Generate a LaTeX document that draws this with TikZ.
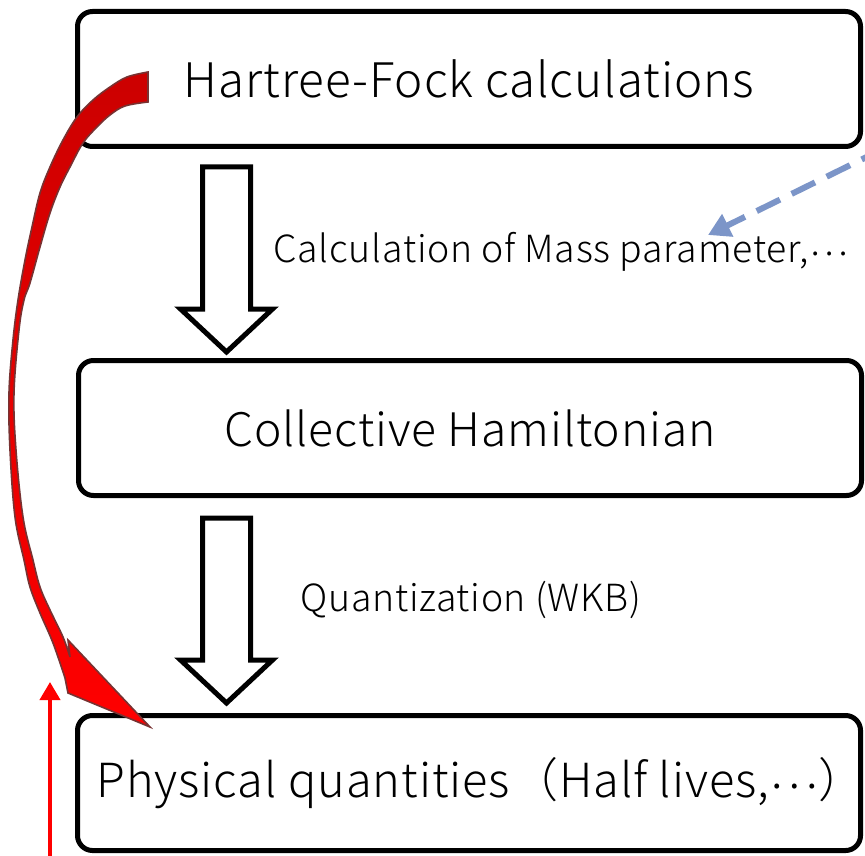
\documentclass[tikz,border=0pt]{standalone}
\usepackage{fontspec}
\setmainfont{Noto Sans CJK JP Light}[LetterSpace=2]
\usetikzlibrary{calc}
\usetikzlibrary{arrows.meta}
\definecolor{dashblue}{RGB}{124,149,200}
\definecolor{arrowedge}{RGB}{120,50,50}
\newcommand{\middots}{\raisebox{0.2em}{⋯}}

\begin{document}
\begin{tikzpicture}[
    x=0.5pt, y=-0.5pt,
    box/.style={rectangle, draw, line width=2.5pt, rounded corners=7.5pt, fill=white, minimum width=391.5pt, minimum height=67.5pt, inner sep=0pt, align=center, font=\fontsize{23.5}{28}\selectfont},
    lbl/.style={anchor=west, inner sep=0pt, font=\fontsize{18.7}{22}\selectfont},
    hollow/.style={draw, line width=2.5pt, fill=white, miter limit=10},
    hollowarrow/.pic={\path[hollow] (-24,0) -- (-24,142) -- (-46,142) -- (0,185) -- (46,142) -- (24,142) -- (24,0) -- cycle;},
    bluedash/.style={dashblue, line width=3pt, dash pattern=on 13pt off 6.5pt, -{Triangle[length=11pt,width=12pt]}},
    redup/.style={red, line width=2pt, -{Triangle[length=9pt,width=10pt]}},
    redcurve/.style={draw=arrowedge, line width=0.8pt, top color=red!80!black, bottom color=red, line join=miter}
]
    \useasboundingbox (0,0) rectangle (865,855);
    \clip (0,0) rectangle (865,855);

    \node[box, font=\fontsize{23.8}{28}\selectfont] (hf) at (469,79) {Hartree-Fock calculations};
    \node[box, font=\fontsize{23.1}{28}\selectfont] (ch) at (470,428) {Collective Hamiltonian};
    \node[box] (pq) at (469,783) {Physical quantities（Half lives,\middots）\kern-0.5em};

    % block arrows between the boxes
    \coordinate (ax) at (226.5,0);
    \path (hf.south -| ax) ++(0,18) coordinate (a1t);
    \path (ch.south -| ax) ++(0,20) coordinate (a2t);
    \pic at (a1t) {hollowarrow};
    \pic at (a2t) {hollowarrow};

    \node[lbl] (mass) at (273,252) {Calculation of Mass parameter,\middots};
    \node[lbl] (wkb) at (300,600) {Quantization (WKB)};

    \coordinate (bs) at (885,148);
    \coordinate (bt) at (708,235);
    \draw[bluedash] (bs) -- (bt);

    \coordinate (rb) at (50,860);
    \coordinate (rt) at (50,682);
    \draw[redup] (rb) -- (rt);

    % curved arrow from HF box down to physical quantities
    \path[redcurve] plot[smooth, tension=0.6] coordinates {(148,72) (127,77) (110,87) (93,100) (77,117) (63,140) (50,167) (40,193) (32,227) (25,260) (18,300) (13,340) (9,393) (10,450) (15,517) (24,560) (30,587) (40,613) (53,643) (65,678)}
        -- (68,693) -- (150,727) -- (68,640)
        -- plot[smooth, tension=0.6] coordinates {(70,657) (63,637) (50,610) (40,587) (33,560) (23,517) (16,450) (14,393) (19,330) (24,300) (30,283) (40,247) (50,213) (60,187) (70,167) (83,143) (97,127) (110,115) (125,106) (148,102)}
        -- cycle;
\end{tikzpicture}
\end{document}
